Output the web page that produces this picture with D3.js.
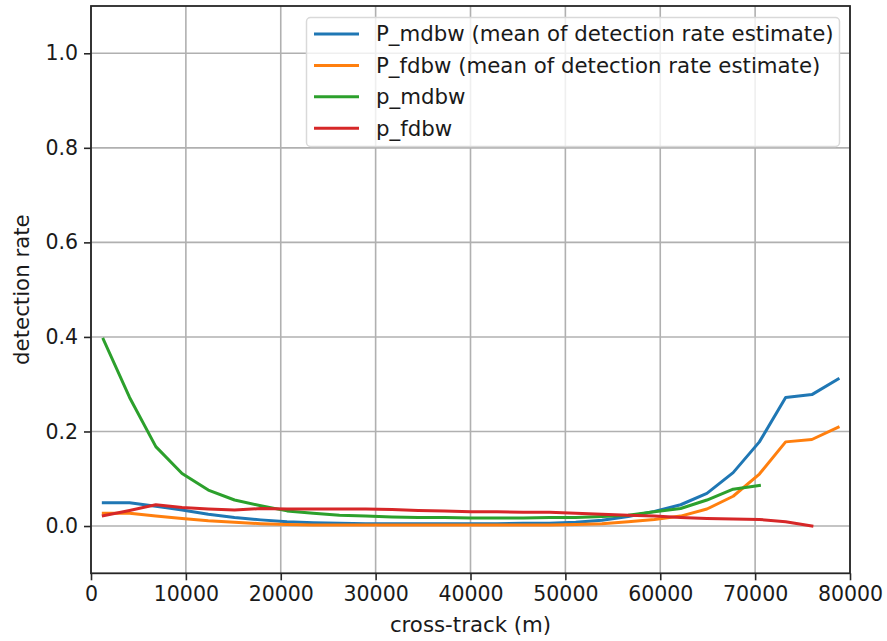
<!DOCTYPE html>
<html>
<head>
<meta charset="utf-8">
<script src="https://cdn.jsdelivr.net/npm/d3@7"></script>
<style>
html,body{margin:0;padding:0;background:#fff;}
svg{display:block;}
text{font-family:"DejaVu Sans",sans-serif;fill:#1a1a1a;}
</style>
</head>
<body>
<svg id="chart" width="887" height="641"></svg>
<script>
const crossTrack = [1300, 4066, 6832, 9598, 12364, 15130, 17896, 20662, 23428, 26194, 28960, 31726, 34492, 37258, 40024, 42790, 45556, 48322, 51088, 53854, 56620, 59386, 62152, 64918, 67684, 70450, 73216, 75982, 78748];
const P_mdbw = [0.049, 0.049, 0.042, 0.034, 0.025, 0.018, 0.013, 0.009, 0.007, 0.006, 0.005, 0.005, 0.005, 0.005, 0.005, 0.005, 0.006, 0.006, 0.008, 0.012, 0.020, 0.031, 0.045, 0.069, 0.113, 0.178, 0.272, 0.278, 0.311];
const P_fdbw = [0.027, 0.027, 0.021, 0.016, 0.011, 0.008, 0.005, 0.003, 0.002, 0.002, 0.002, 0.002, 0.002, 0.002, 0.002, 0.002, 0.002, 0.002, 0.003, 0.005, 0.009, 0.014, 0.021, 0.036, 0.063, 0.110, 0.178, 0.183, 0.209];
const p_mdbw = [0.395, 0.272, 0.168, 0.111, 0.076, 0.055, 0.043, 0.032, 0.027, 0.023, 0.021, 0.019, 0.018, 0.018, 0.017, 0.017, 0.017, 0.018, 0.018, 0.020, 0.023, 0.030, 0.037, 0.055, 0.078, 0.086];
const p_fdbw = [0.022, 0.033, 0.045, 0.039, 0.036, 0.034, 0.037, 0.036, 0.036, 0.036, 0.036, 0.035, 0.033, 0.032, 0.030, 0.030, 0.029, 0.029, 0.027, 0.025, 0.023, 0.021, 0.018, 0.016, 0.015, 0.014, 0.009, 0.000];
const seriesNames = ["P_mdbw (mean of detection rate estimate)", "P_fdbw (mean of detection rate estimate)", "p_mdbw", "p_fdbw"];
const seriesColors = ["#1f77b4", "#ff7f0e", "#2ca02c", "#d62728"];
const xTicks = [0, 10000, 20000, 30000, 40000, 50000, 60000, 70000, 80000];
const yTicks = [0.0, 0.2, 0.4, 0.6, 0.8, 1.0];

const seriesValues = [P_mdbw, P_fdbw, p_mdbw, p_fdbw];
const series = seriesNames.map((name, i) => ({
  name, color: seriesColors[i],
  points: seriesValues[i].map((v, j) => [crossTrack[j], v])
}));

const svg = d3.select("#chart");
const L = 91, R = 850, T = 6, B = 573.3;
const x = d3.scaleLinear().domain([0, 80000]).range([L, R]);
const y = d3.scaleLinear().domain([-0.1, 1.1]).range([B, T]);

const g = svg.append("g");
// grid
g.selectAll(".gx").data(xTicks).enter().append("line")
  .attr("x1", d => x(d)).attr("x2", d => x(d)).attr("y1", T).attr("y2", B)
  .attr("stroke", "#b0b0b0").attr("stroke-width", 1.6);
g.selectAll(".gy").data(yTicks).enter().append("line")
  .attr("y1", d => y(d)).attr("y2", d => y(d)).attr("x1", L).attr("x2", R)
  .attr("stroke", "#b0b0b0").attr("stroke-width", 1.6);

// lines
const line = d3.line().x(d => x(d[0])).y(d => y(d[1]));
g.selectAll(".series").data(series).enter().append("path")
  .attr("d", d => line(d.points))
  .attr("fill", "none").attr("stroke", d => d.color)
  .attr("stroke-width", 3).attr("stroke-linejoin", "round").attr("stroke-linecap", "square");

// axes
const xAxis = d3.axisBottom(x).tickValues(xTicks).tickFormat(d3.format("d")).tickSize(7).tickPadding(6);
const yAxis = d3.axisLeft(y).tickValues(yTicks).tickFormat(d3.format(".1f")).tickSize(7).tickPadding(6);
const gx = svg.append("g").attr("transform", `translate(0,${B})`).call(xAxis);
const gy = svg.append("g").attr("transform", `translate(${L},0)`).call(yAxis);
[gx, gy].forEach(a => {
  a.select(".domain").remove();
  a.selectAll(".tick line").attr("stroke", "#262626").attr("stroke-width", 1.6);
  a.selectAll(".tick text").attr("font-size", 20.5).attr("fill", "#1a1a1a").style("font-family", "DejaVu Sans");
});

// frame
svg.append("rect").attr("x", L).attr("y", T).attr("width", R - L).attr("height", B - T)
  .attr("fill", "none").attr("stroke", "#262626").attr("stroke-width", 1.8);

// axis labels
svg.append("text").attr("x", (L + R) / 2).attr("y", 632).attr("text-anchor", "middle")
  .attr("font-size", 21.3).text("cross-track (m)");
svg.append("text").attr("transform", `translate(29,${(T + B) / 2}) rotate(-90)`)
  .attr("text-anchor", "middle").attr("font-size", 21.3).text("detection rate");

// legend
const lg = svg.append("g");
lg.append("rect").attr("x", 306.5).attr("y", 17.5).attr("width", 533).attr("height", 129).attr("rx", 4)
  .attr("fill", "rgba(255,255,255,0.8)").attr("stroke", "#d9d9d9").attr("stroke-width", 1.5);
const rows = lg.selectAll(".lr").data(series).enter().append("g")
  .attr("transform", (d, i) => `translate(0,${34 + i * 31.4})`);
rows.append("line").attr("x1", 314).attr("x2", 359).attr("y1", 0).attr("y2", 0)
  .attr("stroke", d => d.color).attr("stroke-width", 3);
rows.append("text").attr("x", 376).attr("y", 0).attr("dy", "0.35em").attr("font-size", 21.3).text(d => d.name);
</script>
</body>
</html>
